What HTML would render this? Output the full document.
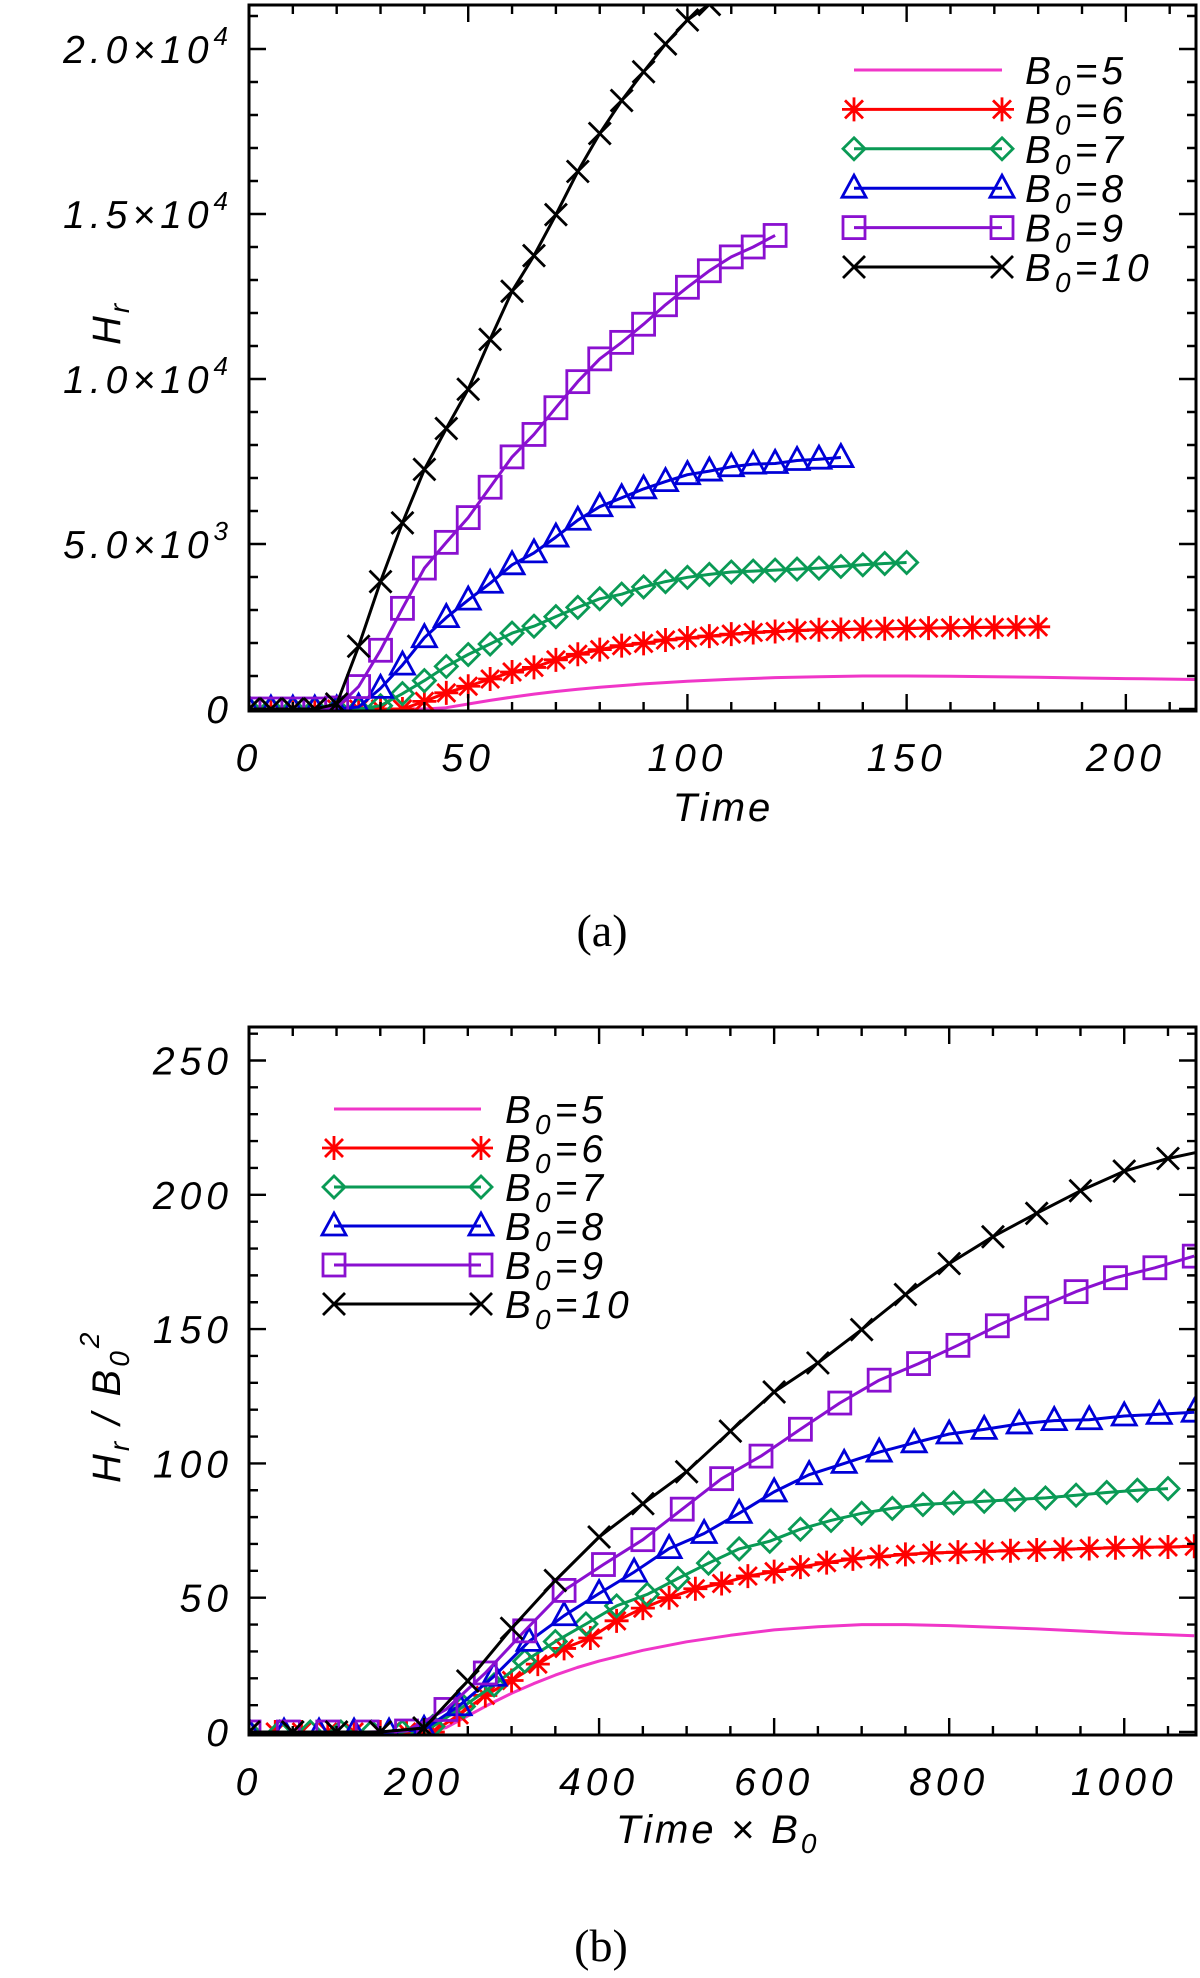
<!DOCTYPE html>
<html><head><meta charset="utf-8"><title>H_r versus time for B0 = 5 to 10</title>
<style>
html,body{margin:0;padding:0;background:#fff;}
svg{display:block;}
text{font-family:"Liberation Sans",sans-serif;font-style:italic;fill:#000;}
.tk{font-size:39px;letter-spacing:5px;}
.lg{font-size:39px;letter-spacing:4px;}
.cap{font-family:"Liberation Serif",serif;font-style:normal;font-size:46px;}
</style></head>
<body>
<svg id="fig" width="1200" height="1978" viewBox="0 0 1200 1978" xmlns="http://www.w3.org/2000/svg"></svg>
<script>
// ---- data (panel a: Time vs H_r); panel b derived as Time*B0 vs H_r/B0^2 ----
const seriesB0 = [5, 6, 7, 8, 9, 10];
const time5 = [0,10,20,30,40,45,50,55,60,65,70,75,80,90,100,110,120,130,140,150,160,170,180,190,200,210,216];
const h5 = [0,0,0,0,0,40,150,260,360,450,530,600,660,760,840,900,950,980,1000,1000,990,975,960,940,920,905,895];
const time6 = [0,5,10,15,20,25,30,35,40,45,50,55,60,65,70,75,80,85,90,95,100,105,110,115,120,125,130,135,140,145,150,155,160,165,170,175,180];
const h6 = [0,0,0,0,0,0,0,0,230,490,690,910,1120,1260,1490,1660,1800,1920,1990,2090,2150,2210,2270,2320,2350,2380,2400,2410,2420,2430,2440,2450,2460,2470,2475,2480,2490];
const time7 = [0,5,10,15,20,25,30,35,40,45,50,55,60,65,70,75,80,85,90,95,100,105,110,115,120,125,130,135,140,145,150];
const h7 = [0,0,0,0,0,0,100,465,860,1290,1650,1970,2300,2510,2800,3080,3340,3480,3700,3860,3990,4080,4150,4180,4210,4240,4270,4320,4370,4410,4440];
const time8 = [0,5,10,15,20,25,30,35,40,45,50,55,60,65,70,75,80,85,90,95,100,105,110,115,120,125,130,135];
const h8 = [0,0,0,0,0,60,625,1330,2160,2770,3300,3810,4370,4730,5210,5720,6130,6400,6670,6890,7100,7210,7340,7420,7440,7530,7570,7620];
const time9 = [0,5,10,15,20,25,30,35,40,45,50,55,60,65,70,75,80,85,90,95,100,105,110,115,120];
const h9 = [0,0,0,0,30,680,1780,3050,4270,5050,5800,6720,7640,8320,9130,9920,10610,11110,11660,12250,12780,13280,13700,14000,14350];
const time10 = [0,5,10,15,20,25,30,35,40,45,50,55,60,65,70,75,80,85,90,95,100,105,110];
const h10 = [0,0,0,0,150,1900,3860,5640,7260,8500,9690,11200,12660,13740,14980,16290,17440,18440,19310,20150,20880,21350,21700];
const markerEvery5 = [false, true, true, true, true, true];
// tick values / labels
const aXTicks = [0, 50, 100, 150, 200];
const aXLabels = ["0", "50", "100", "150", "200"];
const aYTicks = [0, 5000, 10000, 15000, 20000];
const aYMant = ["0", "5.0×10", "1.0×10", "1.5×10", "2.0×10"];
const aYExp = ["", "3", "4", "4", "4"];
const bXTicks = [0, 200, 400, 600, 800, 1000];
const bXLabels = ["0", "200", "400", "600", "800", "1000"];
const bYTicks = [0, 50, 100, 150, 200, 250];
const bYLabels = ["0", "50", "100", "150", "200", "250"];

const times = [time5, time6, time7, time8, time9, time10];
const hvals = [h5, h6, h7, h8, h9, h10];
const colors = ["#f036c8", "#ff0000", "#0a9a55", "#0000d8", "#8a10d0", "#000000"];
const mtypes = ["none", "ast", "dia", "tri", "sq", "x"];

const NS = "http://www.w3.org/2000/svg";
const svg = document.getElementById('fig');
function mk(tag, attrs, parent) {
  const e = document.createElementNS(NS, tag);
  for (const k in attrs) e.setAttribute(k, attrs[k]);
  (parent || svg).appendChild(e);
  return e;
}

const panels = [
  {id:'a', L:249, R:1196, T:5, B:711, xmin:0, xmax:216, y0:709, ypx:0.0330,
   xMinor:10, yMinor:1000, xt:aXTicks, yt:aYTicks},
  {id:'b', L:249, R:1196, T:1027, B:1735, xmin:0, xmax:1082, y0:1732, ypx:2.686,
   xMinor:50, yMinor:10, xt:bXTicks, yt:bYTicks}
];
panels.forEach(p => {
  p.sx = v => p.L + (v - p.xmin) / (p.xmax - p.xmin) * (p.R - p.L);
  p.sy = v => p.y0 - v * p.ypx;
});

function marker(g, type, x, y, col) {
  const sw = 2.8;
  let e;
  if (type === 'sq') {
    e = mk('rect', {x:x-11, y:y-11, width:22, height:22, fill:'none', stroke:col, 'stroke-width':sw}, g);
  } else if (type === 'tri') {
    e = mk('polygon', {points:`${x},${y-13} ${x-12},${y+9} ${x+12},${y+9}`, fill:'none', stroke:col, 'stroke-width':sw}, g);
  } else if (type === 'dia') {
    e = mk('polygon', {points:`${x},${y-11} ${x+11},${y} ${x},${y+11} ${x-11},${y}`, fill:'none', stroke:col, 'stroke-width':sw}, g);
  } else if (type === 'x') {
    e = mk('path', {d:`M${x-11},${y-11}L${x+11},${y+11}M${x-11},${y+11}L${x+11},${y-11}`, stroke:col, 'stroke-width':sw, fill:'none'}, g);
  } else if (type === 'ast') {
    e = mk('path', {d:`M${x-12},${y}L${x+12},${y}M${x},${y-12}L${x},${y+12}M${x-9},${y-9}L${x+9},${y+9}M${x-9},${y+9}L${x+9},${y-9}`, stroke:col, 'stroke-width':sw, fill:'none'}, g);
  }
  if (e) {
    
    
  }
}

function legendLabel(parent, x, y, b0) {
  const t = mk('text', {x:x, y:y, class:'lg'}, parent);
  
  
  t.appendChild(document.createTextNode('B'));
  const s = mk('tspan', {dy:'11', 'font-size':'28'}, t); s.textContent = '0';
  const r = mk('tspan', {dy:'-11'}, t); r.textContent = '=' + b0;
}

panels.forEach((p, pi) => {
  const g = mk('g', {});
  
  
  const clipId = 'clip' + p.id;
  const cp = mk('clipPath', {id:clipId}, g);
  mk('rect', {x:p.L, y:p.T, width:p.R-p.L, height:p.B-p.T}, cp);

  const sg = mk('g', {'clip-path':`url(#${clipId})`}, g);
  
  
  for (let s = 0; s < 6; s++) {
    const B0 = seriesB0[s];
    const xs = times[s].map(t => pi === 0 ? t : t * B0);
    const ys = hvals[s].map(h => pi === 0 ? h : h / (B0 * B0));
    const pts = xs.map((x, i) => p.sx(x).toFixed(1) + ',' + p.sy(ys[i]).toFixed(1)).join(' ');
    const line = mk('polyline', {points:pts, fill:'none', stroke:colors[s], 'stroke-width':3, 'stroke-linejoin':'round'}, sg);
    
    
    if (markerEvery5[s]) {
      xs.forEach((x, i) => marker(sg, mtypes[s], p.sx(x), p.sy(ys[i]), colors[s]));
    }
  }

  const fr = mk('rect', {x:p.L, y:p.T, width:p.R-p.L, height:p.B-p.T, fill:'none', stroke:'#000', 'stroke-width':3}, g);
  
  

  let d = '';
  const ymaxV = (p.y0 - p.T) / p.ypx;
  const yminV = (p.y0 - p.B) / p.ypx;
  for (let v = 0; v <= p.xmax + 0.01; v += p.xMinor) {
    const x = p.sx(v);
    const major = p.xt.some(t => Math.abs(t - v) < 1e-6);
    const len = major ? 17 : 9;
    d += `M${x},${p.B}v${-len}M${x},${p.T}v${len}`;
  }
  for (let v = Math.ceil(yminV / p.yMinor) * p.yMinor; v <= ymaxV; v += p.yMinor) {
    const y = p.sy(v);
    const major = p.yt.some(t => Math.abs(t - v) < 1e-6);
    const len = major ? 17 : 9;
    d += `M${p.L},${y}h${len}M${p.R},${y}h${-len}`;
  }
  const tk = mk('path', {d:d, stroke:'#000', 'stroke-width':2.4, fill:'none'}, g);
  
  

  const xl = pi === 0 ? aXLabels : bXLabels;
  p.xt.forEach((v, i) => {
    const t = mk('text', {x:p.sx(v), y:p.B + 60, class:'tk', 'text-anchor':'middle'}, g);
    
    
    t.textContent = xl[i];
  });
  p.yt.forEach((v, i) => {
    const t = mk('text', {x:233, y:p.sy(v) + 14, class:'tk', 'text-anchor':'end'}, g);
    
    
    if (pi === 0) {
      t.appendChild(document.createTextNode(aYMant[i]));
      if (aYExp[i]) {
        const sp = mk('tspan', {dy:'-18', 'font-size':'26'}, t);
        sp.textContent = aYExp[i];
      }
    } else {
      t.textContent = bYLabels[i];
    }
  });

  const lg = mk('g', {}, g);
  
  
  const lx0 = pi === 0 ? 854 : 334, lx1 = pi === 0 ? 1002 : 481, ltx = pi === 0 ? 1025 : 505;
  const ly0 = pi === 0 ? 70 : 1109, ldy = pi === 0 ? 39.4 : 39;
  for (let s = 0; s < 6; s++) {
    const y = ly0 + s * ldy;
    const e = mk('g', {}, lg);
    
    
    mk('line', {x1:lx0, y1:y, x2:lx1, y2:y, stroke:colors[s], 'stroke-width':3}, e);
    if (markerEvery5[s]) { marker(e, mtypes[s], lx0, y, colors[s]); marker(e, mtypes[s], lx1, y, colors[s]); }
    legendLabel(e, ltx, y + 14, seriesB0[s]);
  }
});

(function(){
  let t = mk('text', {x:0, y:0, 'font-size':'40', 'letter-spacing':'3', transform:'translate(120,345) rotate(-90)'});
  
  
  t.appendChild(document.createTextNode('H'));
  let s = mk('tspan', {dy:'9', 'font-size':'28'}, t); s.textContent = 'r';

  t = mk('text', {x:0, y:0, 'font-size':'40', 'letter-spacing':'3', transform:'translate(120,1483) rotate(-90)'});
  
  
  t.appendChild(document.createTextNode('H'));
  s = mk('tspan', {dy:'9', 'font-size':'28'}, t); s.textContent = 'r';
  s = mk('tspan', {dy:'-9'}, t); s.textContent = '  /  B';
  s = mk('tspan', {dy:'9', 'font-size':'28'}, t); s.textContent = '0';
  s = mk('tspan', {dy:'-30', 'font-size':'28'}, t); s.textContent = '2';

  t = mk('text', {x:723, y:821, 'font-size':'40', 'letter-spacing':'3', 'text-anchor':'middle'});
  
  
  t.textContent = 'Time';

  t = mk('text', {x:616, y:1843, 'font-size':'40', 'letter-spacing':'3'});
  
  
  t.appendChild(document.createTextNode('Time × B'));
  s = mk('tspan', {dy:'10', 'font-size':'28'}, t); s.textContent = '0';

  t = mk('text', {x:602, y:946, class:'cap', 'text-anchor':'middle'});
  
  
  t.textContent = '(a)';

  t = mk('text', {x:601, y:1961, class:'cap', 'text-anchor':'middle'});
  
  
  t.textContent = '(b)';
})();
</script>
</body></html>
